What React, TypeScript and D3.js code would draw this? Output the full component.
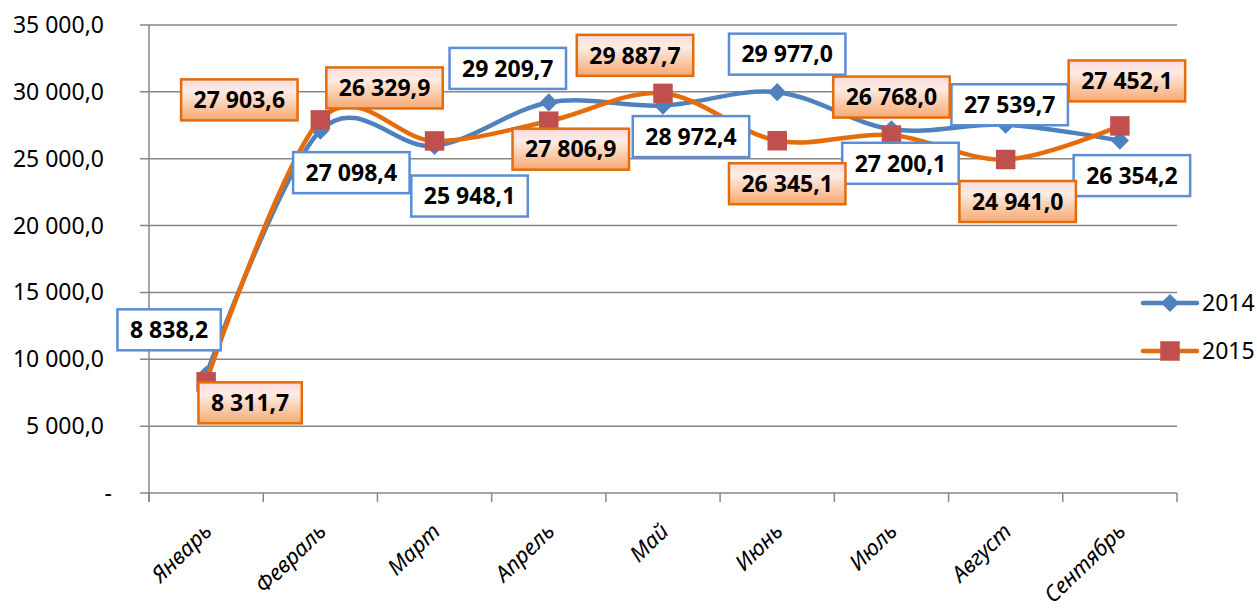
import React, { useEffect, useRef } from 'react';
import * as d3 from 'd3';

const categories = ['Январь', 'Февраль', 'Март', 'Апрель', 'Май', 'Июнь', 'Июль', 'Август', 'Сентябрь'];
const seriesNames = ['2014', '2015'];
const values2014 = [8838.2, 27098.4, 25948.1, 29209.7, 28972.4, 29977.0, 27200.1, 27539.7, 26354.2];
const values2015 = [8311.7, 27903.6, 26329.9, 27806.9, 29887.7, 26345.1, 26768.0, 24941.0, 27452.1];
const yTicks = [0, 5000, 10000, 15000, 20000, 25000, 30000, 35000];

// where Excel put each data label (box centre relative to the point)
const labelShift2014 = [[-37, -45], [31, 42], [35, 50], [-41, -34], [28, 31], [10, -38], [9, 34], [4, -20], [12, 35]];
const labelShift2015 = [[44, 21], [-81, -20], [-50, -53], [22, 28], [-28, -38], [10, 43], [0, -38], [12, 42], [7, -45]];

const W = 1257;
const H = 612;
const FONT = '"Noto Sans", "DejaVu Sans", sans-serif';

const ru = d3.formatLocale({ decimal: ',', thousands: ' ', grouping: [3], currency: ['', ''] });
const fmt = ru.format(',.1f');

function App() {
    const ref = useRef<SVGSVGElement>(null);

    useEffect(() => {
        const svg = d3.select(ref.current);
        svg.selectAll('*').remove();

        const left = 149, right = 1177, top = 25, bottom = 493;
        const x = d3.scaleBand().domain(categories).range([left, right]);
        const y = d3.scaleLinear().domain([0, 35000]).range([bottom, top]);
        const cx = (c: string) => (x(c) as number) + x.bandwidth() / 2;

        const defs = svg.append('defs');
        const grad = defs.append('linearGradient')
            .attr('id', 'orangeBox').attr('x1', 0).attr('y1', 0).attr('x2', 0).attr('y2', 1);
        grad.append('stop').attr('offset', '0%').attr('stop-color', '#FBDADA');
        grad.append('stop').attr('offset', '30%').attr('stop-color', '#FDECE4');
        grad.append('stop').attr('offset', '100%').attr('stop-color', '#F7A971');

        // gridlines
        svg.append('g').selectAll('line').data(yTicks.filter(t => t > 0)).enter()
            .append('line')
            .attr('x1', left - 9).attr('x2', right)
            .attr('y1', d => y(d)).attr('y2', d => y(d))
            .attr('stroke', '#868686').attr('stroke-width', 1.5);

        // y axis
        svg.append('line').attr('x1', left).attr('x2', left).attr('y1', top).attr('y2', bottom + 9)
            .attr('stroke', '#868686').attr('stroke-width', 1.5);
        svg.append('line').attr('x1', left - 9).attr('x2', left).attr('y1', bottom).attr('y2', bottom)
            .attr('stroke', '#868686').attr('stroke-width', 1.5);
        svg.append('g').selectAll('text').data(yTicks).enter()
            .append('text')
            .attr('x', d => d === 0 ? 112 : 104)
            .attr('y', d => y(d))
            .attr('dy', '0.35em')
            .attr('text-anchor', 'end')
            .style('font-family', FONT).style('font-size', '23px').style('fill', '#000')
            .text(d => d === 0 ? '-' : fmt(d));

        // x axis
        svg.append('line').attr('x1', left).attr('x2', right).attr('y1', bottom).attr('y2', bottom)
            .attr('stroke', '#868686').attr('stroke-width', 1.5);
        const tickX = categories.map(c => x(c) as number).concat([right]);
        svg.append('g').selectAll('line').data(tickX).enter()
            .append('line')
            .attr('x1', d => d).attr('x2', d => d).attr('y1', bottom).attr('y2', bottom + 9)
            .attr('stroke', '#868686').attr('stroke-width', 1.5);
        svg.append('g').selectAll('text').data(categories).enter()
            .append('text')
            .attr('transform', d => `translate(${cx(d) + 7}, ${bottom + 40}) rotate(-44)`)
            .attr('text-anchor', 'end')
            .style('font-family', FONT).style('font-size', '22px').style('font-style', 'italic').style('fill', '#000')
            .text(d => d);

        const line = d3.line<number>()
            .x((d, i) => cx(categories[i]))
            .y(d => y(d))
            .curve(d3.curveCatmullRom.alpha(0));

        const series = [
            { name: seriesNames[0], values: values2014, line: '#4F81BD', marker: '#4F81BD', size: 165, rot: 45 },
            { name: seriesNames[1], values: values2015, line: '#E46C0A', marker: '#C0504D', size: 380, rot: 0 },
        ];
        const marker = d3.symbol().type(d3.symbolSquare);

        series.forEach(s => {
            svg.append('path')
                .attr('d', line(s.values) as string)
                .attr('fill', 'none')
                .attr('stroke', s.line)
                .attr('stroke-width', 4.5)
                .attr('stroke-linejoin', 'round');
            svg.append('g').selectAll('path').data(s.values).enter()
                .append('path')
                .attr('d', marker.size(s.size)() as string)
                .attr('transform', (d, i) => `translate(${cx(categories[i])}, ${y(d)}) rotate(${s.rot})`)
                .attr('fill', s.marker);
        });

        // legend
        series.forEach((s, i) => {
            const ly = 303 + i * 48;
            svg.append('line').attr('x1', 1143).attr('x2', 1197).attr('y1', ly).attr('y2', ly)
                .attr('stroke', s.line).attr('stroke-width', 4.5).attr('stroke-linecap', 'round');
            svg.append('path')
                .attr('d', marker.size(s.size)() as string)
                .attr('transform', `translate(1170, ${ly}) rotate(${s.rot})`)
                .attr('fill', s.marker);
            svg.append('text').attr('x', 1202).attr('y', ly).attr('dy', '0.35em')
                .style('font-family', FONT).style('font-size', '23px').style('fill', '#000')
                .text(s.name);
        });

        // data labels
        const labels = svg.append('g');
        const drawLabels = (values: number[], shifts: number[][], stroke: string, fill: string) => {
            values.forEach((v, i) => {
                const px = cx(categories[i]) + shifts[i][0];
                const py = y(v) + shifts[i][1];
                const g = labels.append('g');
                const rect = g.append('rect');
                const t = g.append('text')
                    .attr('x', px).attr('y', py).attr('dy', '0.36em')
                    .attr('text-anchor', 'middle')
                    .style('font-family', FONT).style('font-size', '23px').style('font-weight', 'bold').style('fill', '#000')
                    .text(fmt(v));
                const tw = (t.node() as SVGTextElement).getComputedTextLength();
                const bw = tw + 25, bh = 41;
                rect.attr('x', px - bw / 2).attr('y', py - bh / 2).attr('width', bw).attr('height', bh)
                    .attr('fill', fill).attr('stroke', stroke).attr('stroke-width', 2.5);
            });
        };
        drawLabels(values2014, labelShift2014, '#5B8ED6', '#FFFFFF');
        drawLabels(values2015, labelShift2015, '#E46C0A', 'url(#orangeBox)');
    }, []);

    return (
        <svg ref={ref} width={W} height={H} style={{ display: 'block', position: 'absolute', left: 0, top: 0 }}></svg>
    );
}

export default App;
